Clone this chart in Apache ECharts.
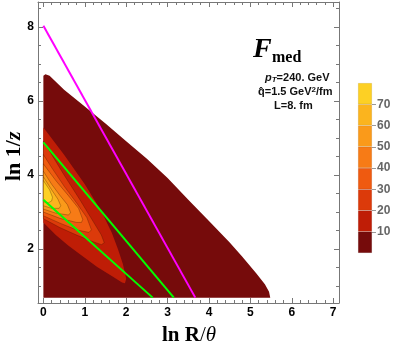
<!DOCTYPE html>
<html><head><meta charset="utf-8">
<script src="https://cdn.jsdelivr.net/npm/echarts@6/dist/echarts.min.js"></script>
<style>html,body{margin:0;padding:0;background:#fff}#c{width:399px;height:349px}</style>
</head><body><div id="c"></div>
<script>
// ---------- data ----------
const xTickLabels = [0, 1, 2, 3, 4, 5, 6, 7];
const xMinorTicks = [0.2,0.4,0.6,0.8,1.2,1.4,1.6,1.8,2.2,2.4,2.6,2.8,3.2,3.4,3.6,3.8,4.2,4.4,4.6,4.8,5.2,5.4,5.6,5.8,6.2,6.4,6.6,6.8,7];
const yTickLabels = [2, 4, 6, 8];
const yMinorTicks = [1,1.5,2.5,3,3.5,4.5,5,5.5,6.5,7,7.5,8.5];
const levelValues = [0, 10, 20, 30, 40, 50, 60, 70, 80];
const colorbarLabels = [10, 20, 30, 40, 50, 60, 70];

// contour regions (value > level), [ln R/theta, ln 1/z]
const region0 = [[0,0.69],[0,6.68],[0.05,6.72],[0.15,6.68],[0.5,6.3],[1.0,5.85],[1.5,5.39],[2.0,4.91],[2.5,4.44],[3.0,3.92],[3.5,3.33],[4.0,2.76],[4.5,2.18],[4.8,1.8],[5.14,1.35],[5.35,1.05],[5.45,0.85],[5.48,0.69]];
const region10 = [[0,2.72],[0.3,2.38],[0.6,2.1],[0.9,1.85],[1.3,1.52],[1.7,1.24],[1.9,1.1],[1.97,1.08],[2.0,1.2],[1.92,1.6],[1.8,2.0],[1.65,2.45],[1.4,3.02],[1.0,3.75],[0.5,4.55],[0,5.28]];
const region20 = [[0,2.82],[0.4,2.58],[0.8,2.38],[1.2,2.2],[1.4,2.12],[1.47,2.17],[1.4,2.38],[1.2,2.75],[0.9,3.3],[0.5,4.0],[0.2,4.55],[0,4.92]];
const region30 = [[0,2.9],[0.4,2.7],[0.8,2.52],[1.1,2.45],[1.16,2.52],[1.05,2.85],[0.8,3.25],[0.5,3.7],[0.2,4.2],[0,4.55]];
const region40 = [[0,3.0],[0.4,2.83],[0.8,2.72],[0.92,2.72],[0.95,2.8],[0.85,3.1],[0.6,3.45],[0.3,3.85],[0,4.3]];
const region50 = [[0,3.08],[0.3,2.97],[0.6,2.92],[0.66,2.98],[0.58,3.2],[0.4,3.45],[0.2,3.75],[0,4.1]];
const region60 = [[0,3.17],[0.2,3.1],[0.38,3.1],[0.42,3.17],[0.35,3.35],[0.2,3.6],[0,3.95]];
const region70 = [[0,3.28],[0.12,3.25],[0.2,3.3],[0.22,3.4],[0.15,3.6],[0,3.85]];
const regions = [region0, region10, region20, region30, region40, region50, region60, region70];

const magentaLine = [[0, 8.03], [3.67, 0.69]];
const greenLine1 = [[0, 4.88], [3.15, 0.69]];
const greenLine2 = [[0, 3.33], [2.64, 0.69]];

// ---------- style ----------
const bandColors = ['#760b0b','#bf1d06','#dc3a0a','#ef5a10','#f77b16','#fa9a1a','#fbb41e','#fdd024'];
const frameColor = '#777';
const serif = '"Liberation Serif","DejaVu Serif",serif';
const sans = '"Liberation Sans",Arial,sans-serif';

const chart = echarts.init(document.getElementById('c'), null, {renderer:'canvas'});

function frameAxis(dim, pos, ticks, len, showLine, labels) {
  return {
    gridIndex: 0, type: 'value', position: pos,
    min: dim === 'x' ? -0.13 : 0.545, max: dim === 'x' ? 7.14 : 8.67,
    splitLine: {show: false},
    axisLine: {show: showLine, onZero: false, lineStyle: {color: frameColor, width: 1}},
    axisTick: {show: true, inside: true, length: len, customValues: ticks, lineStyle: {color: frameColor, width: 1}},
    axisLabel: labels ? {show: true, customValues: labels, color: '#000', fontWeight: 'bold', fontSize: 12, fontFamily: sans, margin: 4} : {show: false}
  };
}

const xAxes = [
  frameAxis('x','bottom', xTickLabels, 5, true, xTickLabels),
  frameAxis('x','bottom', xMinorTicks, 3, false, null),
  frameAxis('x','top', xTickLabels, 5, true, null),
  frameAxis('x','top', xMinorTicks, 3, false, null),
  {gridIndex: 1, type: 'category', data: ['c'], show: false}
];
const yAxes = [
  frameAxis('y','left', yTickLabels, 5, true, yTickLabels),
  frameAxis('y','left', yMinorTicks, 3, false, null),
  frameAxis('y','right', yTickLabels, 5, true, null),
  frameAxis('y','right', yMinorTicks, 3, false, null),
  {gridIndex: 1, type: 'value', min: levelValues[0], max: levelValues[levelValues.length-1], position: 'right',
   splitLine: {show: false}, axisLine: {show: false},
   axisTick: {show: true, length: 4, customValues: colorbarLabels, lineStyle: {color: '#999'}},
   axisLabel: {customValues: colorbarLabels, color: '#666', fontWeight: 'bold', fontSize: 12, fontFamily: sans, margin: 5}}
];

const series = [];
regions.forEach((pts, i) => {
  series.push({
    type: 'custom', xAxisIndex: 0, yAxisIndex: 0, silent: true, z: 2 + i * 0.01,
    data: [[pts[0][0], pts[0][1]]],
    renderItem: (params, api) => ({
      type: 'polygon',
      shape: {points: pts.map(p => api.coord(p)), smooth: 0},
      style: {fill: bandColors[i], stroke: i >= 2 ? 'rgba(60,20,0,0.45)' : 'none', lineWidth: 0.7}
    })
  });
});
[[magentaLine, '#ff00ff'], [greenLine1, '#00ff00'], [greenLine2, '#00ff00']].forEach(([d, c]) => {
  series.push({type: 'line', xAxisIndex: 0, yAxisIndex: 0, data: d, symbol: 'none', silent: true, z: 5,
    lineStyle: {color: c, width: 2}});
});
// colorbar
for (let i = 0; i < bandColors.length; i++) {
  series.push({type: 'bar', xAxisIndex: 4, yAxisIndex: 4, stack: 'cb', barWidth: '100%', silent: true,
    data: [levelValues[i+1] - levelValues[i]],
    itemStyle: {color: bandColors[i], borderColor: 'rgba(0,0,0,0.15)', borderWidth: 0.5}});
}

chart.setOption({
  animation: false,
  backgroundColor: '#fff',
  grid: [
    {left: 38, top: 2, right: 60, bottom: 46, containLabel: false},
    {left: 358, top: 83, width: 14, height: 170}
  ],
  xAxis: xAxes,
  yAxis: yAxes,
  series: series,
  graphic: [
    {type: 'text', left: 253, top: 36, z: 100, style: {text: 'F', font: 'italic bold 28px ' + serif, fill: '#000'}},
    {type: 'text', left: 272, top: 50, z: 100, style: {text: 'med', font: 'bold 16px ' + serif, fill: '#000'}},
    {type: 'text', left: 265, top: 72, z: 100, style: {
      text: '{i|p}{s|T}{n|=240. GeV}',
      rich: {i: {font: 'italic bold 11px ' + sans, fill: '#111'},
             s: {font: 'italic bold 8px ' + sans, fill: '#111', verticalAlign: 'bottom', padding: [4,0,0,0]},
             n: {font: 'bold 11px ' + sans, fill: '#111'}}}},
    {type: 'text', left: 258, top: 86, z: 100, style: {
      text: '{n|q\u0302=1.5 GeV}{u|2}{n|/fm}',
      rich: {n: {font: 'bold 11px ' + sans, fill: '#111'},
             u: {font: 'bold 8px ' + sans, fill: '#111', verticalAlign: 'top', padding: [0,0,4,0]}}}},
    {type: 'text', left: 274, top: 100, z: 100, style: {text: 'L=8. fm', font: 'bold 11px ' + sans, fill: '#111'}},
    {type: 'text', x: 3, y: 181, rotation: Math.PI / 2, z: 100, style: {
      text: '{n|ln 1/}{i|z}', rich: {n: {font: 'bold 22px ' + serif, fill: '#000'}, i: {font: 'italic bold 22px ' + serif, fill: '#000'}}}},
    {type: 'text', left: 162, top: 325, z: 100, style: {
      text: '{n|ln R}{r|/}{i|θ}', rich: {n: {font: 'bold 21px ' + serif, fill: '#000'}, r: {font: '21px ' + serif, fill: '#000'}, i: {font: 'italic 21px ' + serif, fill: '#000'}}}}
  ]
});
</script></body></html>
